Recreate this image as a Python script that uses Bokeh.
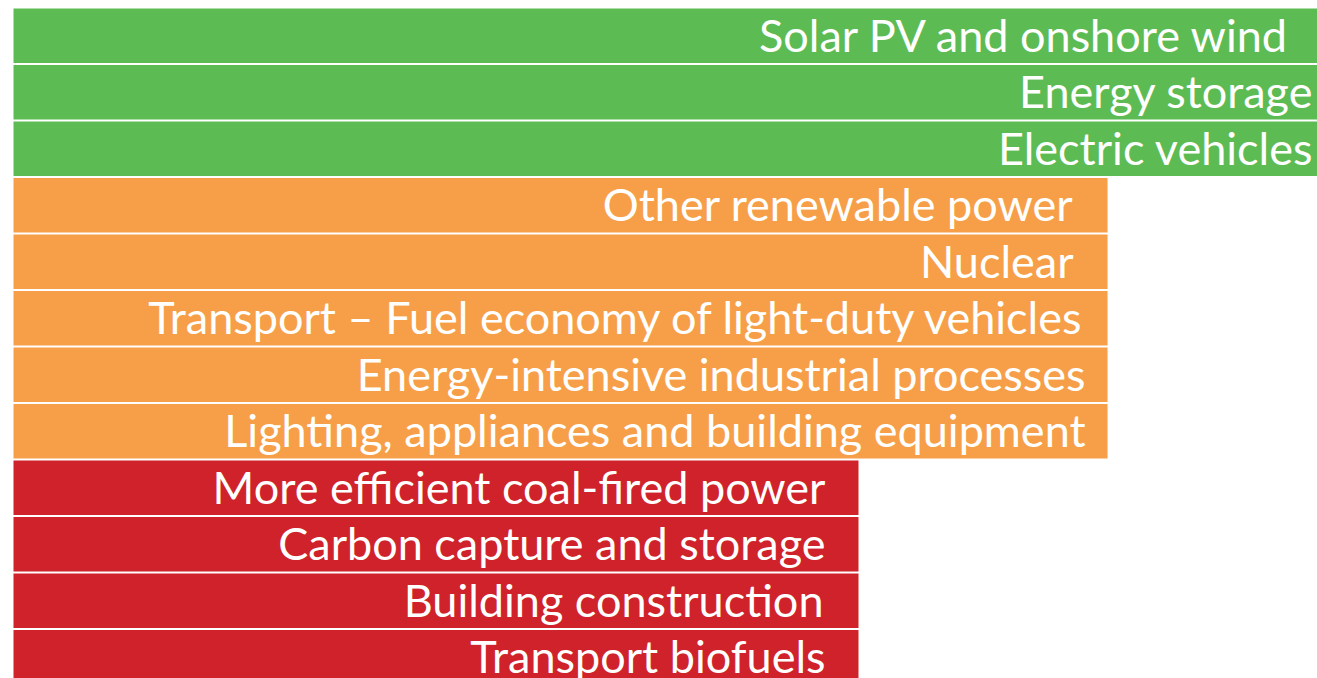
from bokeh.plotting import figure
from bokeh.models import Range1d, ColumnDataSource
from bokeh.core.properties import value
from bokeh.embed import file_html
from bokeh.resources import INLINE

# Data
categories = [
    "Solar PV and onshore wind",
    "Energy storage",
    "Electric vehicles",
    "Other renewable power",
    "Nuclear",
    "Transport \u2013 Fuel economy of light-duty vehicles",
    "Energy-intensive industrial processes",
    "Lighting, appliances and building equipment",
    "More efficient coal-fired power",
    "Carbon capture and storage",
    "Building construction",
    "Transport biofuels",
]
status = ["on track"] * 3 + ["more efforts needed"] * 5 + ["not on track"] * 4
status_values = {"on track": 100.0, "more efforts needed": 83.9, "not on track": 64.8}
status_colors = {"on track": "#5DBB54", "more efforts needed": "#F79F48", "not on track": "#D0222A"}

values = [status_values[s] for s in status]
colors = [status_colors[s] for s in status]
# label right padding (pixels) - style only
label_pad = [-27, -4, -4, -34, -34, -22, -22, -22, -33, -33, -35, -33]

ys = list(range(len(categories)))
src = ColumnDataSource(dict(y=ys, v=values, c=colors, label=categories, pad=label_pad))

W, H = 1317, 678
PITCH = 56.5
p = figure(width=W, height=H, output_backend="svg", toolbar_location=None,
           x_range=Range1d(-13 / 13.04, 100),
           y_range=Range1d((H - 35.25) / PITCH, -35.25 / PITCH),
           min_border=0, min_border_left=0, min_border_right=0,
           min_border_top=0, min_border_bottom=0)
p.axis.visible = False
p.grid.visible = False
p.outline_line_color = None
p.background_fill_color = "white"
p.border_fill_color = "white"

p.hbar(y="y", left=0, right="v", height=54.5 / PITCH, color="c", line_color=None, source=src)
p.text(x="v", y="y", text="label", source=src, x_offset="pad", y_offset=-1,
       text_align="right", text_baseline="middle", text_color="white",
       text_font=value("Lato"), text_font_size="45px")

open("out.html", "w").write(file_html(p, INLINE))
